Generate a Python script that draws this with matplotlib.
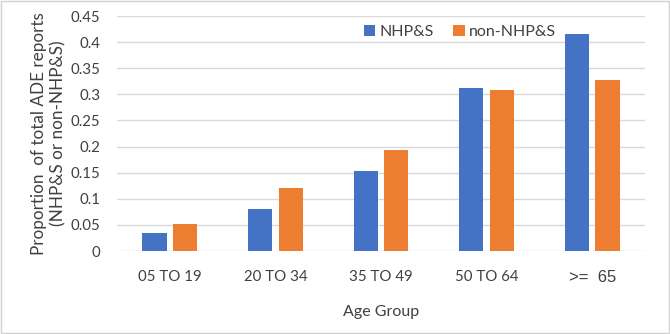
import matplotlib
matplotlib.use("Agg")
import matplotlib.pyplot as plt
import numpy as np

categories = ["05 TO 19", "20 TO 34", "35 TO 49", "50 TO 64", ">=  65"]
nhps = [0.034, 0.081, 0.153, 0.312, 0.416]
non_nhps = [0.052, 0.121, 0.193, 0.308, 0.327]
series_names = ["NHP&S", "non-NHP&S"]
yticks = [0, 0.05, 0.1, 0.15, 0.2, 0.25, 0.3, 0.35, 0.4, 0.45]
ytick_labels = ["0", "0.05", "0.1", "0.15", "0.2", "0.25", "0.3", "0.35", "0.4", "0.45"]

FONT = "Lato"
fig = plt.figure(figsize=(6.7, 3.34), dpi=100)
ax = fig.add_axes([0.1746, 0.2485, 0.788, 0.7035])

x = np.arange(len(categories))
w = 0.23
off = 0.145
ax.bar(x - off, nhps, w, color="#4472C4", label=series_names[0], zorder=3)
ax.bar(x + off, non_nhps, w, color="#ED7D31", label=series_names[1], zorder=3)

ax.set_xlim(-0.5, len(categories) - 0.5)
ax.set_ylim(0, 0.45)
ax.set_yticks(yticks)
ax.set_yticklabels(ytick_labels, fontsize=10.8, family=FONT, color="#404040")
ax.set_xticks(x)
ax.set_xticklabels(categories, fontsize=10.8, family=FONT, color="#404040")
lbls = ax.get_xticklabels()
lbls[-1].set_family("Liberation Sans")
lbls[-1].set_fontsize(12)
ax.tick_params(axis="both", length=0)
ax.tick_params(axis="x", pad=14)
ax.tick_params(axis="y", pad=12)
ax.yaxis.grid(True, color="#d9d9d9", linewidth=1, zorder=0)
for s in ax.spines.values():
    s.set_visible(False)

ax.set_xlabel("Age Group", fontsize=11.5, family=FONT, color="#404040", labelpad=14)
ax.set_ylabel("Proportion  of total ADE reports\n(NHP&S or non-NHP&S)", fontsize=12.3,
              family=FONT, color="#404040", labelpad=3, linespacing=1.25)

leg = ax.legend(loc="center", bbox_to_anchor=(0.65, 0.932), ncol=2, frameon=False,
                prop={"family": FONT, "size": 11.5}, handlelength=0.7, handleheight=0.7,
                handletextpad=0.3, columnspacing=1.2)
for t in leg.get_texts():
    t.set_color("#404040")

fig.patches.append(plt.Rectangle((0.001, 0.002), 0.997, 0.995, transform=fig.transFigure,
                                 fill=False, edgecolor="#d0d0d0", linewidth=1))
fig.savefig("out.png", dpi=100)
